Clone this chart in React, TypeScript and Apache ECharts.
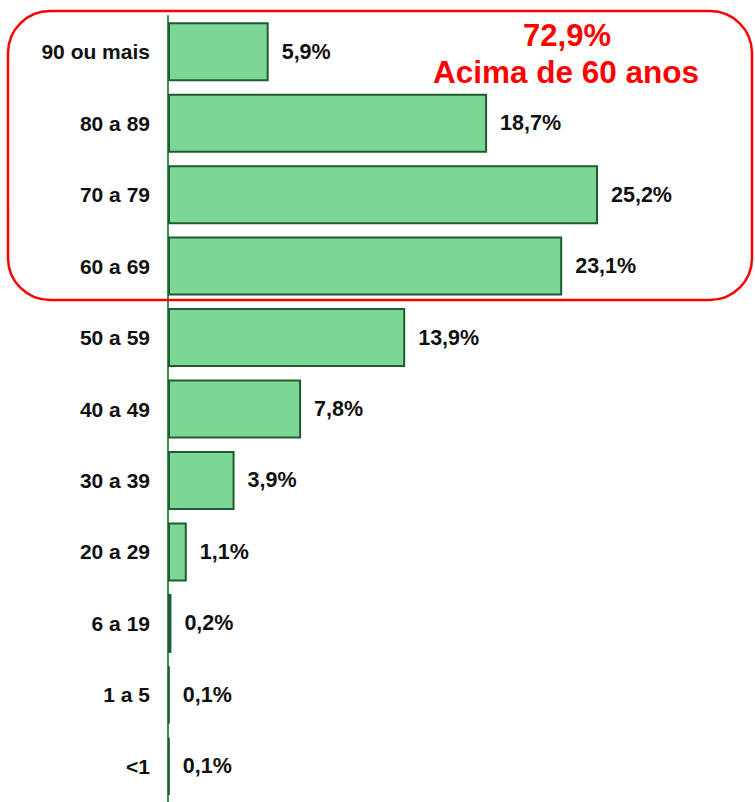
import React, { useEffect, useRef } from "react";
import * as echarts from "echarts";

const categories = ["90 ou mais", "80 a 89", "70 a 79", "60 a 69", "50 a 59", "40 a 49", "30 a 39", "20 a 29", "6 a 19", "1 a 5", "<1"];
const values = [5.9, 18.7, 25.2, 23.1, 13.9, 7.8, 3.9, 1.1, 0.2, 0.1, 0.1];
const highlightLines = ["72,9%", "Acima de 60 anos"];

export default function App() {
  const ref = useRef<HTMLDivElement>(null);
  useEffect(() => {
    if (!ref.current) return;
    const chart = echarts.init(ref.current, null, { renderer: "svg" });
    const font = "'Liberation Sans', Arial, sans-serif";
    chart.setOption({
      animation: false,
      grid: { left: 168, right: 0, top: 16, bottom: 0, containLabel: false },
      xAxis: {
        type: "value",
        min: 0,
        max: 34.4,
        show: false,
      },
      yAxis: {
        type: "category",
        data: categories,
        inverse: true,
        axisLine: { show: true, lineStyle: { color: "#3f8f4f", width: 2 } },
        axisTick: { show: false },
        axisLabel: {
          margin: 18,
          fontFamily: font,
          fontWeight: "bold",
          fontSize: 21,
          color: "#111",
        },
      },
      series: [
        {
          type: "bar",
          data: values,
          barWidth: 59,
          itemStyle: { color: "#7dd794", borderColor: "#1f5b33", borderWidth: 2 },
          label: {
            show: true,
            position: "right",
            distance: 13,
            fontFamily: font,
            fontWeight: "bold",
            fontSize: 21.5,
            color: "#111",
            formatter: (p: any) => String(p.value).replace(".", ",") + "%",
          },
        },
      ],
      graphic: [
        {
          type: "rect",
          shape: { x: 8, y: 11, width: 744, height: 289, r: 42 },
          style: { fill: "none", stroke: "#ff0000", lineWidth: 2.5 },
          z: 10,
        },
        {
          type: "text",
          x: 567,
          y: 35,
          style: {
            text: highlightLines[0],
            fill: "#ff0000",
            font: `bold 31px ${font}`,
            textAlign: "center",
            textVerticalAlign: "middle",
          },
          z: 10,
        },
        {
          type: "text",
          x: 566,
          y: 72,
          style: {
            text: highlightLines[1],
            fill: "#ff0000",
            font: `bold 31.5px ${font}`,
            textAlign: "center",
            textVerticalAlign: "middle",
          },
          z: 10,
        },
      ],
    });
    return () => chart.dispose();
  }, []);
  return <div ref={ref} style={{ position: "absolute", left: 0, top: 0, width: 755, height: 802 }} />;
}
